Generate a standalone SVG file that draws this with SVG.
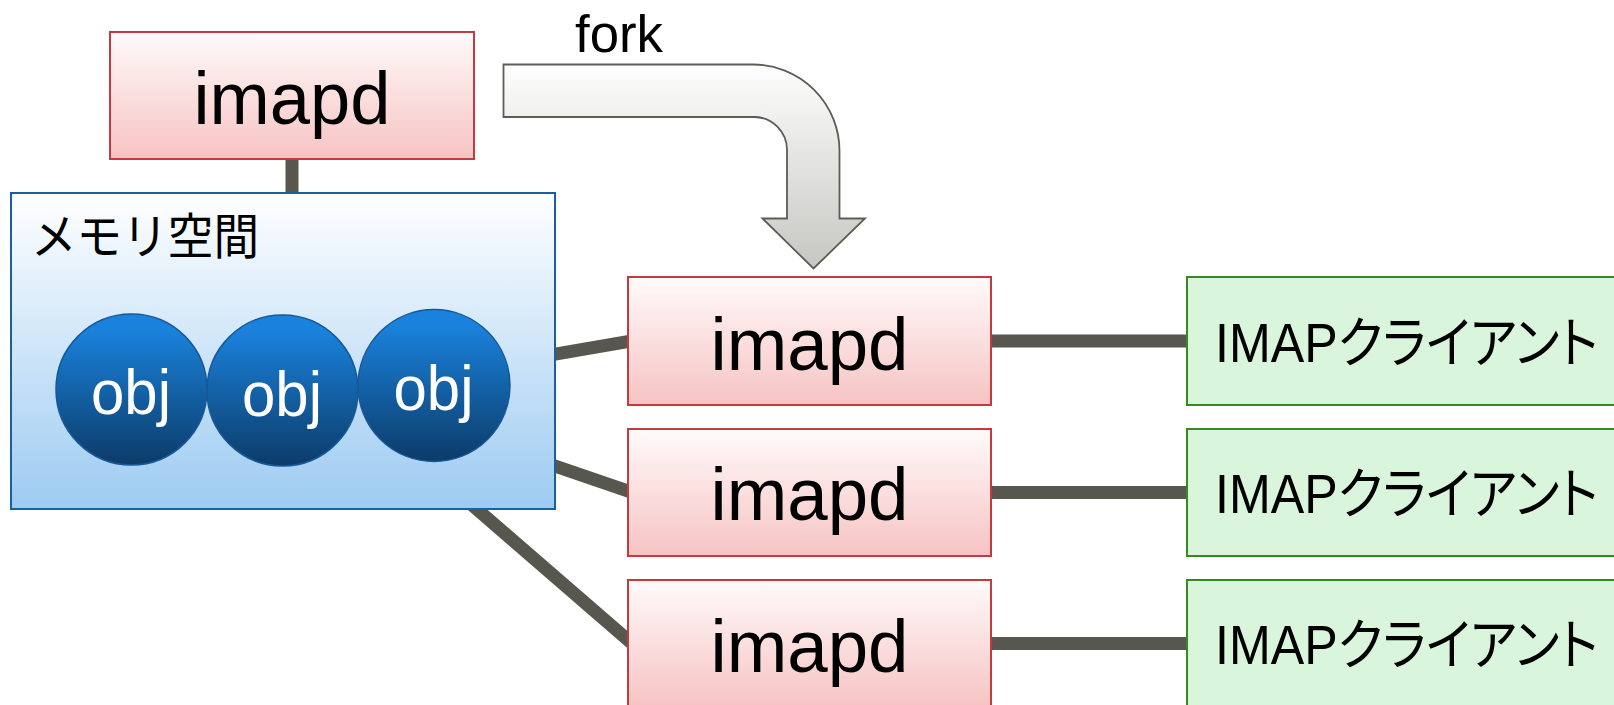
<svg xmlns="http://www.w3.org/2000/svg" width="1614" height="705" viewBox="0 0 1614 705">
  <defs>
    <linearGradient id="gRed" x1="0" y1="0" x2="0" y2="1">
      <stop offset="0" stop-color="#fffafa"/>
      <stop offset="1" stop-color="#f7c3c3"/>
    </linearGradient>
    <linearGradient id="gMem" x1="0" y1="0" x2="0" y2="1">
      <stop offset="0" stop-color="#ffffff"/>
      <stop offset="1" stop-color="#9dcbf2"/>
    </linearGradient>
    <linearGradient id="gObj" x1="0" y1="0" x2="0" y2="1">
      <stop offset="0.1" stop-color="#1a82dc"/>
      <stop offset="1" stop-color="#0c3b68"/>
    </linearGradient>
    <linearGradient id="gFork" x1="0" y1="0" x2="0" y2="1">
      <stop offset="0" stop-color="#fefefe"/>
      <stop offset="1" stop-color="#c6c6c2"/>
    </linearGradient>
    <style>
      .proc { fill: url(#gRed); stroke: #c33a3f; stroke-width: 2; }
      .client { fill: #d9f5dc; stroke: #38891f; stroke-width: 2; }
      .mem { fill: url(#gMem); stroke: #1c5f9f; stroke-width: 2; }
      .obj { fill: url(#gObj); stroke: #15589a; stroke-width: 1.5; }
      .conn { stroke: #57574f; stroke-width: 13; fill: none; }
      .lbl { font-family: "Liberation Sans", Arial, sans-serif; fill: #000; }
      .big { font-size: 74px; text-anchor: middle; }
      .objt { font-family: "Liberation Sans", Arial, sans-serif; font-size: 63px; fill: #fff; text-anchor: middle; }
      .jp { font-family: "Liberation Sans", "Noto Sans CJK JP", sans-serif; fill: #000; }
      .cli { font-size: 55px; font-feature-settings: "palt"; }
    </style>
  </defs>

  <g id="connectors">
    <line class="conn" x1="292" y1="155" x2="292" y2="197"/>
    <line class="conn" x1="545" y1="355.8" x2="632" y2="340.9"/>
    <line class="conn" x1="545" y1="462.6" x2="632" y2="492.4"/>
    <line class="conn" x1="464" y1="498" x2="631" y2="642.6"/>
    <line class="conn" x1="985" y1="341" x2="1192" y2="341"/>
    <line class="conn" x1="985" y1="492.5" x2="1192" y2="492.5"/>
    <line class="conn" x1="985" y1="643.5" x2="1192" y2="643.5"/>
  </g>

  <g id="fork">
    <path d="M503.5,64.5 H753 A86.5,86.5 0 0 1 839.5,151 V218.5 H865 L813.5,268.5 L762.5,218.5 H787 V150 A33,33 0 0 0 754,117 H503.5 Z" fill="url(#gFork)" stroke="#5c5c56" stroke-width="1.8" stroke-linejoin="miter"/>
    <text class="lbl" x="575" y="52" font-size="51" textLength="88" lengthAdjust="spacingAndGlyphs">fork</text>
  </g>

  <g id="imapd-parent">
    <rect class="proc" x="110" y="32" width="364" height="127"/>
    <text class="lbl big" x="292" y="124" textLength="197" lengthAdjust="spacingAndGlyphs">imapd</text>
  </g>

  <g id="memory">
    <rect class="mem" x="11" y="193" width="544" height="316"/>
    <text class="jp" x="31" y="254" font-size="49" textLength="228" lengthAdjust="spacingAndGlyphs">メモリ空間</text>
  </g>

  <g id="obj1">
    <circle class="obj" cx="131.5" cy="389.5" r="75.5"/>
    <text class="objt" x="131" y="414" textLength="80" lengthAdjust="spacingAndGlyphs">obj</text>
  </g>
  <g id="obj2">
    <circle class="obj" cx="282.5" cy="390.5" r="75.5"/>
    <text class="objt" x="282" y="415.5" textLength="80" lengthAdjust="spacingAndGlyphs">obj</text>
  </g>
  <g id="obj3">
    <circle class="obj" cx="434" cy="385.5" r="76"/>
    <text class="objt" x="433.5" y="409.5" textLength="80" lengthAdjust="spacingAndGlyphs">obj</text>
  </g>

  <g id="imapd-1">
    <rect class="proc" x="628" y="277" width="363" height="128"/>
    <text class="lbl big" x="809.5" y="369.5" textLength="198" lengthAdjust="spacingAndGlyphs">imapd</text>
  </g>
  <g id="imapd-2">
    <rect class="proc" x="628" y="429" width="363" height="127"/>
    <text class="lbl big" x="809.5" y="520" textLength="198" lengthAdjust="spacingAndGlyphs">imapd</text>
  </g>
  <g id="imapd-3">
    <rect class="proc" x="628" y="580" width="363" height="127"/>
    <text class="lbl big" x="809.5" y="671.5" textLength="198" lengthAdjust="spacingAndGlyphs">imapd</text>
  </g>

  <g id="client-1">
    <rect class="client" x="1187" y="277" width="430" height="128"/>
    <text class="jp cli" x="1215" y="361.5" textLength="383" lengthAdjust="spacingAndGlyphs">IMAPクライアント</text>
  </g>
  <g id="client-2">
    <rect class="client" x="1187" y="429" width="430" height="127"/>
    <text class="jp cli" x="1215" y="512.5" textLength="383" lengthAdjust="spacingAndGlyphs">IMAPクライアント</text>
  </g>
  <g id="client-3">
    <rect class="client" x="1187" y="580" width="430" height="127"/>
    <text class="jp cli" x="1215" y="664" textLength="383" lengthAdjust="spacingAndGlyphs">IMAPクライアント</text>
  </g>
</svg>
